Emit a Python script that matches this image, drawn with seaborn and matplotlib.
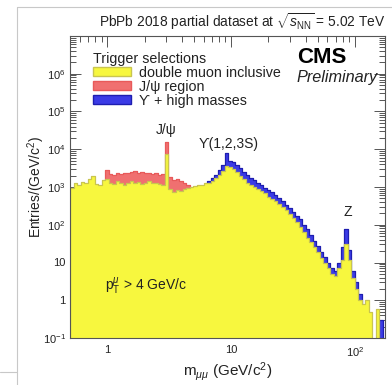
import numpy as np
import pandas as pd
import matplotlib
matplotlib.use("Agg")
import matplotlib.pyplot as plt
import seaborn as sns
from matplotlib.patches import Patch
from matplotlib.lines import Line2D
from matplotlib.ticker import LogLocator, FixedLocator, FixedFormatter, NullFormatter

# ---------------- data ----------------
mass_min, mass_max, n_bins = 0.5, 180.0, 90

yellow_counts = [950, 1300, 1150, 1350, 1250, 1600, 2000, 1200, 1100, 1500,
                 1600, 1300, 1200, 1450, 1250, 1150, 1300, 1400, 1250, 1350,
                 1200, 1300, 1400, 1250, 1300, 1200, 1150,
                 7500,
                 900, 750, 850, 800, 900, 950,
                 1000, 1050, 1150, 1100, 1250, 1300,
                 1400, 1700, 2100, 2700, 3600, 3300, 3000,
                 2500, 2000, 1600, 1300, 1100, 1000, 880, 800, 700, 560,
                 480, 420, 360, 300, 240, 190, 150, 115, 85, 65,
                 45, 34, 25, 19, 13, 10, 7, 5, 4.5,
                 7, 12, 30, 12, 4, 2, 1, 0.8, 1, 0.5, 0, 0.6, 0, 0]

red_counts = [0] * 10 + [2800,
              2200, 2100, 2300, 2200, 2400, 2300, 2500, 2600, 2400, 2500,
              2300, 2400, 2200, 2300, 2100, 2200,
              16000,
              1800, 1500, 1600, 1400, 1300, 1150] + [0] * 56

blue_counts = [0] * 39 + [1400,
               1700, 2100, 2800, 3800, 8000, 5000, 4600,
               3800, 3100, 2500, 2100, 1750, 1500, 1250, 1100, 950, 850,
               750, 620, 500, 430, 340, 270, 220, 175, 140, 100,
               75, 55, 38, 27, 19, 14, 10, 7, 6,
               10, 25, 75, 22, 6, 3, 1.5, 0, 0, 0, 0, 0, 0.3, 0]

legend_labels = ["double muon inclusive", "J/\u03c8 region", "\u03d2 + high masses"]
y_tick_values = [0.1, 1, 10, 1e2, 1e3, 1e4, 1e5, 1e6]
y_tick_labels = ["10$^{-1}$", "1", "10", "10$^{2}$", "10$^{3}$", "10$^{4}$", "10$^{5}$", "10$^{6}$"]
x_tick_values = [1, 10, 100]
x_tick_labels = ["1", "10", "10$^{2}$"]

# ---------------- style ----------------
sns.set_style("ticks")
plt.rcParams["font.family"] = ["Liberation Sans", "DejaVu Sans"]
plt.rcParams["mathtext.fontset"] = "custom"
plt.rcParams["mathtext.rm"] = "Liberation Sans"
plt.rcParams["mathtext.it"] = "Liberation Sans:italic"
plt.rcParams["mathtext.bf"] = "Liberation Sans:bold"

YEL, YEL_E = "#f7f73e", "#c9c550"
RED, RED_E = "#f07070", "#e85a5a"
BLU, BLU_E = "#3b3be6", "#1e1eb0"
TXT = "#222222"

edges = np.geomspace(mass_min, mass_max, n_bins + 1)
centers = np.sqrt(edges[:-1] * edges[1:])

fig = plt.figure(figsize=(3.92, 3.85), dpi=100)
ax = fig.add_axes([70 / 392, 1 - 338 / 385, 315 / 392, 302 / 385])

for counts, fc, ec in [(blue_counts, BLU, BLU_E), (red_counts, RED, RED_E), (yellow_counts, YEL, YEL_E)]:
    df = pd.DataFrame({"mass": centers, "entries": np.asarray(counts, dtype=float)})
    sns.histplot(data=df, x="mass", weights="entries", bins=list(edges), element="step",
                 fill=True, color=fc, edgecolor=ec, alpha=1, linewidth=0.9, ax=ax)

ax.set_xscale("log")
ax.set_yscale("log")
ax.set_xlim(0.5, 175)
ax.set_ylim(0.1, 1e7)

ax.yaxis.set_major_locator(FixedLocator(y_tick_values))
ax.yaxis.set_major_formatter(FixedFormatter(y_tick_labels))
ax.yaxis.set_minor_locator(LogLocator(base=10, subs=np.arange(2, 10), numticks=100))
ax.yaxis.set_minor_formatter(NullFormatter())
ax.xaxis.set_major_locator(FixedLocator(x_tick_values))
ax.xaxis.set_major_formatter(FixedFormatter(x_tick_labels))
ax.xaxis.set_minor_locator(LogLocator(base=10, subs=np.arange(2, 10), numticks=100))
ax.xaxis.set_minor_formatter(NullFormatter())

ax.tick_params(which="both", direction="in", top=True, right=True, colors="#555555",
               labelcolor=TXT, labelsize=8, width=0.7)
ax.tick_params(which="major", length=8)
ax.tick_params(axis="y", which="major", pad=3)
ax.tick_params(axis="x", which="major", pad=5)
ax.tick_params(which="minor", length=4)
for s in ax.spines.values():
    s.set_color("#555555")
    s.set_linewidth(0.8)

ax.set_xlabel(r"m$_{\mu\mu}$ (GeV/c$^{2}$)", fontsize=11, color=TXT, labelpad=1)
ax.set_ylabel(r"Entries/(GeV/c$^{2}$)", fontsize=10, color=TXT, labelpad=-3)

# legend
handles = [Patch(facecolor=YEL, edgecolor=YEL_E), Patch(facecolor=RED, edgecolor=RED_E),
           Patch(facecolor=BLU, edgecolor=BLU_E)]
leg = ax.legend(handles, legend_labels, title="Trigger selections", loc="upper left",
                bbox_to_anchor=(0.05, 0.972), frameon=False, fontsize=10.3, title_fontsize=10.3,
                handlelength=2.65, handleheight=0.65, labelspacing=0.0, handletextpad=0.6,
                borderpad=0.0, alignment="left")
for t in leg.get_texts():
    t.set_color(TXT)
leg.get_title().set_color(TXT)

# annotations
ax.text(0.72, 0.93, "CMS", transform=ax.transAxes, fontsize=16, fontweight="bold",
        color="black", ha="left", va="center")
ax.text(0.72, 0.862, "Preliminary", transform=ax.transAxes, fontsize=11.7, style="italic",
        color=TXT, ha="left", va="center")
ax.text(3.0, 10 ** 4.5, "J/\u03c8", fontsize=10, color=TXT, ha="center", va="center")
ax.text(9.6, 10 ** 4.13, "\u03d2(1,2,3S)", fontsize=10, color=TXT, ha="center", va="center")
ax.text(87, 10 ** 2.34, "Z", fontsize=10, color=TXT, ha="center", va="center")
ax.text(0.96, 10 ** 0.37, r"p$_{\mathrm{T}}^{\mu}$ > 4 GeV/c", fontsize=10, color=TXT,
        ha="left", va="center")

fig.text(99 / 392, 1 - 22 / 385, r"PbPb 2018 partial dataset at $\sqrt{s_{\mathrm{NN}}}$ = 5.02 TeV",
         fontsize=9.9, color=TXT, ha="left", va="center")

# light frame of the surrounding page
fc = "#c8c8c8"
fig.add_artist(Line2D([17 / 392, 17 / 392], [0, 1 - 7 / 385], transform=fig.transFigure, color=fc, lw=0.8))
fig.add_artist(Line2D([17 / 392, 1], [1 - 7 / 385, 1 - 7 / 385], transform=fig.transFigure, color=fc, lw=0.8))
fig.add_artist(Line2D([0, 17 / 392], [1 - 372 / 385, 1 - 372 / 385], transform=fig.transFigure, color=fc, lw=0.8))

fig.savefig("out.png", dpi=100)
